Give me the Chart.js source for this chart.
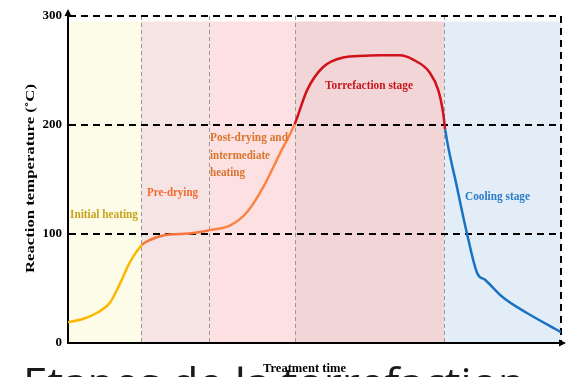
<!DOCTYPE html>
<html><head><meta charset="utf-8">
<script src="https://cdn.jsdelivr.net/npm/chart.js@4/dist/chart.umd.min.js"></script>
<style>html,body{margin:0;padding:0;background:#fff;overflow:hidden}canvas{display:block}</style>
</head><body>
<canvas id="c" width="566" height="377"></canvas>
<script>
// ---- data ----
const times = [0, 3, 6, 8.5, 9.9, 11.2, 12.2, 13.2, 15.0, 16.6, 19.7, 22.7, 25.5, 28.6, 32.9, 36.3, 39.6, 43.0, 46.0, 48.5, 51.7, 55.8, 60, 63.3, 67.3, 70.0, 73.4, 75.1, 76.1, 76.5, 78.9, 80.9, 83.0, 84.6, 88.2, 93.1, 100];
const temps = [19, 22, 28, 37, 48.5, 61, 71, 79, 90, 94.5, 99, 100, 101, 103.5, 108, 120, 143, 174, 201, 232, 253, 262, 263.5, 264, 264, 260, 248, 232, 211, 196, 143, 101, 64, 58, 42, 27.5, 10];
const stageNames = ['Initial heating', 'Pre-drying', 'Post-drying and intermediate heating', 'Torrefaction stage', 'Cooling stage'];
const stageBounds = [0, 14.8, 28.6, 46.0, 76.3, 100];
const yTickValues = [0, 100, 200, 300];
const yTitle = 'Reaction temperature (˚C)';
const xTitle = 'Treatment time';
const caption = 'Etapes de la torrefaction';

// ---- styles ----
const stageFills = ['#fdfce8', '#f6e3e4', '#fde0e1', '#f2d6d7', '#e3edf7'];
const stageLine = ['#fbb800', '#f7743a', '#fb8444', '#d0121b', '#1a72c4'];
const stageText = ['#c9a21a', '#f26a30', '#d9742c', '#c8161e', '#2a7ac8'];
const serif = '"Liberation Serif", "Times New Roman", serif';

function stageOf(t) {
  for (let i = 0; i < stageBounds.length - 1; i++) if (t < stageBounds[i + 1] - 0.05) return i;
  return stageBounds.length - 2;
}

function fitText(ctx, text, x, y, w, font, color) {
  ctx.save();
  ctx.font = font; ctx.fillStyle = color; ctx.textBaseline = 'alphabetic'; ctx.textAlign = 'left';
  const m = ctx.measureText(text).width;
  const s = w / m;
  ctx.translate(x, y); ctx.scale(s, 1);
  ctx.fillText(text, 0, 0);
  ctx.restore();
}

const stagePlugin = {
  id: 'stages',
  beforeDraw(chart) {
    const { ctx, chartArea: a, scales: { x, y } } = chart;
    ctx.save();
    const top = y.getPixelForValue(295);
    for (let i = 0; i < stageFills.length; i++) {
      const x0 = x.getPixelForValue(stageBounds[i]), x1 = x.getPixelForValue(stageBounds[i + 1]);
      ctx.fillStyle = stageFills[i];
      ctx.fillRect(x0, top, x1 - x0, a.bottom - top);
    }
    ctx.strokeStyle = '#999'; ctx.lineWidth = 1; ctx.setLineDash([4, 3]);
    for (let i = 1; i < stageBounds.length - 1; i++) {
      const px = Math.round(x.getPixelForValue(stageBounds[i])) + 0.5;
      ctx.beginPath(); ctx.moveTo(px, a.top); ctx.lineTo(px, a.bottom); ctx.stroke();
    }
    ctx.restore();
  },
  afterDraw(chart) {
    const { ctx, chartArea: a } = chart;
    ctx.save();
    // axis arrows
    ctx.fillStyle = '#000'; ctx.strokeStyle = '#000'; ctx.lineWidth = 2; ctx.setLineDash([]);
    ctx.beginPath(); ctx.moveTo(a.left, a.top); ctx.lineTo(a.left, 13); ctx.stroke();
    ctx.beginPath(); ctx.moveTo(a.left, 9); ctx.lineTo(a.left - 3.5, 16); ctx.lineTo(a.left + 3.5, 16); ctx.closePath(); ctx.fill();
    ctx.beginPath(); ctx.moveTo(a.right - 4, a.bottom); ctx.lineTo(563, a.bottom); ctx.stroke();
    ctx.beginPath(); ctx.moveTo(566, a.bottom); ctx.lineTo(559, a.bottom - 3.5); ctx.lineTo(559, a.bottom + 3.5); ctx.closePath(); ctx.fill();
    ctx.restore();

    const f = 'bold 13px ' + serif;
    fitText(ctx, stageNames[0], 70, 218, 68, f, stageText[0]);
    fitText(ctx, stageNames[1], 147, 196, 51, f, stageText[1]);
    fitText(ctx, 'Post-drying and', 210, 141, 78, f, stageText[2]);
    fitText(ctx, 'intermediate', 210, 159, 60, f, stageText[2]);
    fitText(ctx, 'heating', 210, 176, 35, f, stageText[2]);
    fitText(ctx, stageNames[3], 325, 89, 88, f, stageText[3]);
    fitText(ctx, stageNames[4], 465, 200, 65, f, stageText[4]);

    // y title
    ctx.save();
    ctx.translate(34, 273); ctx.rotate(-Math.PI / 2);
    fitText(ctx, yTitle, 0, 0, 189, 'bold 13px ' + serif, '#000');
    ctx.restore();
    // x title
    fitText(ctx, xTitle, 263, 372, 83, 'bold 12px ' + serif, '#000');
    // caption
    ctx.save();
    const size = 40;
    ctx.font = size + 'px "Open Sans", "Noto Sans", sans-serif';
    const m = ctx.measureText(caption).width;
    ctx.fillStyle = '#1a1a1a';
    ctx.translate(23, 368 + size * 0.72); ctx.scale(502 / m, 1);
    ctx.fillText(caption, 0, 0);
    ctx.restore();
  }
};

const points = times.map((t, i) => ({ x: t, y: temps[i] }));

new Chart(document.getElementById('c'), {
  type: 'line',
  data: {
    datasets: [{
      data: points,
      borderWidth: 2.5,
      pointRadius: 0,
      cubicInterpolationMode: 'monotone',
      borderColor: stageLine[0],
      segment: { borderColor: c => stageLine[stageOf(c.p0.parsed.x)] },
      fill: false
    }]
  },
  options: {
    responsive: false,
    devicePixelRatio: 1,
    animation: false,
    layout: { padding: { top: 16, right: 5, left: 0, bottom: 0 } },
    plugins: { legend: { display: false }, tooltip: { enabled: false } },
    scales: {
      x: {
        type: 'linear', min: 0, max: 100,
        ticks: { display: false, stepSize: 50 },
        grid: { drawTicks: false, lineWidth: 2, color: c => c.tick && c.tick.value === 100 ? '#000' : 'rgba(0,0,0,0)' },
        border: { color: '#000', width: 2, dash: [7, 5] },
        afterFit: s => { s.height = 34; }
      },
      y: {
        min: 0, max: 300,
        afterBuildTicks: s => { s.ticks = yTickValues.map(v => ({ value: v })); },
        ticks: { color: '#000', padding: 6, font: { family: serif, weight: 'bold', size: 13 } },
        grid: { drawTicks: false, lineWidth: 2, color: c => c.tick && c.tick.value === 0 ? 'rgba(0,0,0,0)' : '#000' },
        border: { color: '#000', width: 2, dash: [7, 5] },
        afterFit: s => { s.width = 68; }
      }
    }
  },
  plugins: [stagePlugin]
});
</script>
</body></html>
